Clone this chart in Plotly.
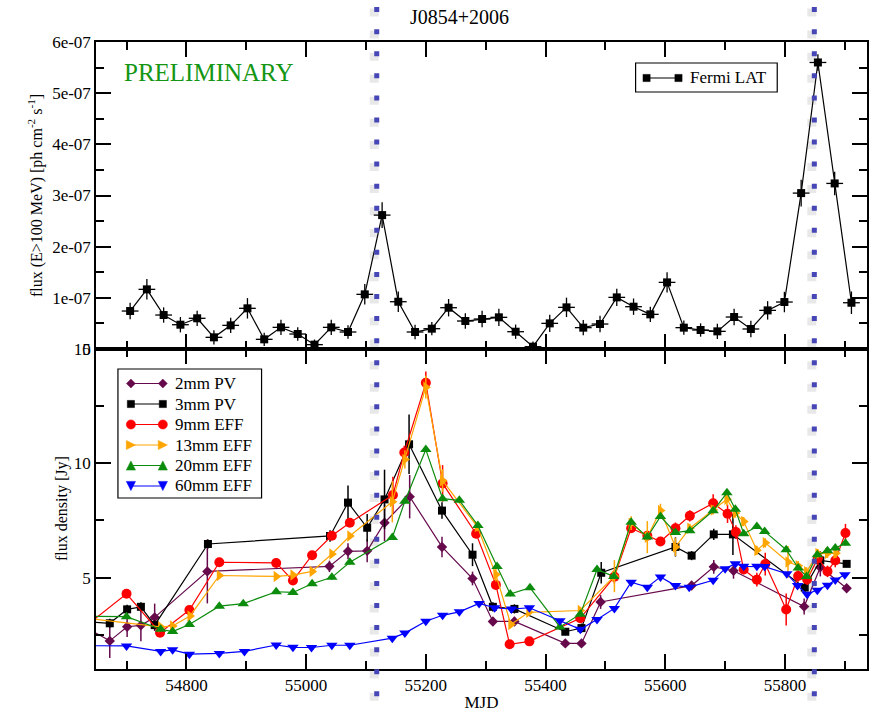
import plotly.graph_objects as go

# ---------------- Fermi LAT gamma-ray light curve (28-day bins) ----------------
lat_mjd = [54706, 54734, 54762, 54790, 54818, 54846, 54874, 54902, 54930, 54958,
           54986, 55014, 55042, 55070, 55098, 55127, 55154, 55182, 55210, 55238,
           55266, 55294, 55322, 55350, 55379, 55407, 55435, 55463, 55491, 55519,
           55547, 55575, 55603, 55631, 55659, 55687, 55715, 55743, 55771, 55799,
           55827, 55855, 55883, 55911]
lat_flux = [0.742, 1.166, 0.664, 0.475, 0.600, 0.228, 0.462, 0.795, 0.189, 0.423,
            0.293, 0.085, 0.423, 0.332, 1.068, 2.617, 0.924, 0.332, 0.397, 0.807,
            0.547, 0.586, 0.619, 0.338, 0.045, 0.501, 0.814, 0.417, 0.488, 1.009,
            0.827, 0.677, 1.302, 0.417, 0.371, 0.345, 0.625, 0.391, 0.755, 0.918,
            3.047, 5.600, 3.236, 0.904]          # units of 1e-7 ph cm^-2 s^-1
lat_err = [0.16, 0.20, 0.15, 0.15, 0.15, 0.14, 0.15, 0.20, 0.13, 0.15,
           0.13, 0.10, 0.15, 0.13, 0.20, 0.25, 0.20, 0.14, 0.13, 0.17,
           0.15, 0.16, 0.17, 0.14, 0.10, 0.17, 0.19, 0.15, 0.16, 0.17,
           0.16, 0.15, 0.20, 0.14, 0.13, 0.15, 0.16, 0.16, 0.18, 0.20,
           0.26, 0.16, 0.23, 0.22]
lat_halfbin = 14
lat_scale = 1e-7

# ---------------- radio light curves (flux density, Jy) ----------------
pv2_mjd = [54630, 54672, 54701, 54724, 54747, 54835, 55039, 55070, 55102, 55131,
           55173, 55227, 55278, 55312, 55348, 55433, 55460, 55492, 55644, 55681,
           55714, 55832, 55859, 55903]
pv2_val = [2.85, 2.23, 2.85, 2.91, 3.26, 5.27, 5.49, 6.15, 6.17, 7.40,
           8.54, 6.34, 4.96, 3.08, 3.08, 2.12, 2.12, 3.93, 4.65, 5.47,
           5.30, 3.73, 5.45, 4.53]
pv2_err = [0.30, 0.75, 0.45, 0.70, 0.60, 1.40, 0.25, 0.35, 0.50, 0.80,
           0.95, 0.45, 0.30, 0.20, 0.20, 0.15, 0.15, 0.30, 0.15, 0.30,
           0.35, 0.35, 0.40, 0.10]

pv3_mjd = [54630, 54672, 54701, 54724, 54747, 54836, 55040, 55070, 55102, 55131,
           55172, 55227, 55278, 55312, 55348, 55433, 55460, 55493, 55617, 55644,
           55681, 55713, 55833, 55859, 55903]
pv3_val = [3.07, 3.00, 3.61, 3.72, 2.92, 6.47, 6.82, 8.28, 7.18, 8.42,
           10.83, 7.93, 6.00, 3.72, 3.63, 2.63, 2.79, 5.21, 6.34, 5.96,
           6.89, 6.89, 4.56, 5.75, 5.60]
pv3_err = [0.20, 0.20, 0.20, 0.20, 0.20, 0.20, 0.25, 0.75, 0.60, 1.30,
           1.30, 0.36, 0.50, 0.20, 0.20, 0.15, 0.20, 0.47, 0.42, 0.20,
           0.25, 0.90, 0.25, 0.40, 0.10]

eff9_mjd = [54640, 54700, 54756, 54805, 54855, 54950, 54978, 55010, 55043, 55073,
            55145, 55164, 55200, 55228, 55284, 55317, 55340, 55373, 55458, 55515,
            55543, 55570, 55592, 55617, 55641, 55680, 55704, 55718, 55731, 55753,
            55767, 55802, 55822, 55837, 55855, 55871, 55884, 55901]
eff9_val = [3.04, 4.29, 2.59, 3.58, 5.67, 5.64, 4.87, 5.98, 6.83, 7.40,
            8.61, 10.47, 13.52, 9.12, 6.92, 4.68, 2.08, 2.21, 3.22, 5.04,
            7.16, 6.83, 6.58, 7.16, 7.70, 8.25, 7.79, 6.99, 5.35, 4.91,
            5.59, 3.60, 5.07, 4.92, 5.85, 5.27, 5.75, 6.95]
eff9_err = [0.15, 0.15, 0.15, 0.15, 0.15, 0.15, 0.15, 0.15, 0.15, 0.15,
            0.80, 0.30, 0.50, 0.80, 0.20, 0.20, 0.10, 0.10, 0.20, 0.30,
            0.20, 0.20, 0.20, 0.25, 0.25, 0.40, 0.40, 0.30, 0.20, 0.30,
            0.50, 0.70, 0.25, 0.25, 0.30, 0.25, 0.30, 0.40]

eff13_mjd = [54640, 54757, 54777, 54806, 54855, 54950, 54978, 55010, 55043, 55073,
             55144, 55165, 55200, 55228, 55286, 55317, 55342, 55372, 55458, 55515,
             55543, 55570, 55592, 55617, 55641, 55680, 55703, 55717, 55731, 55753,
             55767, 55805, 55822, 55836, 55855, 55871, 55885]
eff13_val = [3.20, 2.84, 2.88, 3.32, 5.09, 5.05, 5.11, 5.27, 6.03, 6.82,
             8.32, 10.17, 13.33, 9.24, 7.23, 5.13, 2.95, 3.48, 3.56, 5.06,
             7.38, 6.77, 7.93, 6.34, 7.16, 7.96, 8.43, 7.82, 7.45, 6.19,
             6.52, 5.68, 5.52, 5.25, 6.05, 6.06, 6.06]
eff13_err = [0.10, 0.10, 0.10, 0.10, 0.10, 0.10, 0.10, 0.10, 0.10, 0.10,
             0.90, 0.40, 0.50, 0.50, 0.20, 0.30, 0.15, 0.15, 0.15, 0.70,
             0.30, 0.70, 0.30, 0.40, 0.20, 0.20, 0.30, 0.20, 0.20, 0.20,
             0.20, 0.70, 0.20, 0.20, 0.20, 0.20, 0.20]

eff20_mjd = [54640, 54700, 54757, 54777, 54805, 54855, 54895, 54950, 54978, 55010,
             55043, 55073, 55144, 55165, 55200, 55228, 55256, 55287, 55319, 55341,
             55374, 55424, 55458, 55486, 55514, 55543, 55570, 55592, 55617, 55641,
             55680, 55703, 55717, 55731, 55753, 55766, 55802, 55822, 55836, 55854,
             55871, 55884, 55901]
eff20_val = [3.30, 3.29, 2.74, 2.64, 2.95, 3.75, 3.86, 4.38, 4.35, 4.73,
             5.01, 5.67, 6.75, 8.34, 10.60, 8.45, 8.38, 7.28, 5.48, 4.28,
             4.56, 2.84, 3.40, 5.35, 5.05, 7.42, 6.77, 7.67, 6.97, 7.05,
             7.92, 8.71, 7.99, 6.92, 7.23, 7.02, 6.22, 5.42, 5.05, 6.00,
             6.17, 6.29, 6.50]
eff20_err = [0.10] * len(eff20_val)

eff60_mjd = [54630, 54700, 54757, 54777, 54805, 54855, 54897, 54950, 54978, 55009,
             55043, 55073, 55144, 55165, 55200, 55228, 55256, 55289, 55315, 55343,
             55373, 55424, 55458, 55486, 55515, 55543, 55570, 55592, 55617, 55640,
             55680, 55700, 55717, 55731, 55753, 55766, 55803, 55821, 55837, 55854,
             55871, 55884, 55900]
eff60_val = [2.02, 2.01, 1.77, 1.84, 1.65, 1.68, 1.77, 2.05, 1.95, 1.94,
             2.04, 2.04, 2.35, 2.57, 3.09, 3.35, 3.50, 3.87, 3.68, 3.62,
             3.68, 3.11, 2.74, 3.17, 3.65, 4.80, 4.58, 5.03, 4.65, 4.58,
             4.88, 5.39, 5.61, 5.49, 5.49, 5.48, 5.17, 4.65, 4.27, 4.45,
             4.66, 4.89, 5.12]
eff60_err = [0.06] * len(eff60_val)

# gamma-ray flare epochs marked across both panels
flare_mjd = [55118, 55849]

# axis ticks
x_range = [54649, 55937]
top_tickvals = [0, 1e-7, 2e-7, 3e-7, 4e-7, 5e-7, 6e-7]
top_ticktext = ["0", "1e-07", "2e-07", "3e-07", "4e-07", "5e-07", "6e-07"]

SERIF = "Liberation Serif"
FONT_SIZE = 17

radio_series = [
    ("2mm PV", pv2_mjd, pv2_val, pv2_err, "#660a4c", "diamond", 8),
    ("3mm PV", pv3_mjd, pv3_val, pv3_err, "#000000", "square", 8),
    ("9mm EFF", eff9_mjd, eff9_val, eff9_err, "#ff0000", "circle", 10),
    ("13mm EFF", eff13_mjd, eff13_val, eff13_err, "#ffa500", "triangle-right", 10),
    ("20mm EFF", eff20_mjd, eff20_val, eff20_err, "#0c8c0c", "triangle-up", 10),
    ("60mm EFF", eff60_mjd, eff60_val, eff60_err, "#0000ff", "triangle-down", 10),
]

fig = go.Figure()

fig.add_trace(go.Scatter(
    x=lat_mjd,
    y=[v * lat_scale for v in lat_flux],
    mode="lines+markers",
    name="Fermi LAT",
    line=dict(color="black", width=1.2),
    marker=dict(symbol="square", size=8, color="black"),
    error_y=dict(type="data", array=[e * lat_scale for e in lat_err],
                 color="black", thickness=1.3, width=0),
    error_x=dict(type="constant", value=lat_halfbin,
                 color="black", thickness=1.3, width=0),
    xaxis="x", yaxis="y", showlegend=False,
))

for name, xs, ys, es, col, sym, size in radio_series:
    fig.add_trace(go.Scatter(
        x=xs, y=ys,
        mode="lines+markers",
        name=name,
        line=dict(color=col, width=1.2),
        marker=dict(symbol=sym, size=size, color=col),
        error_y=dict(type="data", array=es, color=col, thickness=1.5, width=0),
        xaxis="x2", yaxis="y2", showlegend=False,
    ))

# ---- page geometry (pixels) ----
PLOT_LEFT = 96
PLOT_TOP = 42
PLOT_BOTTOM = 669
PLOT_W = 869 - PLOT_LEFT
PLOT_H = PLOT_BOTTOM - PLOT_TOP
PANEL_SPLIT = 349


def paper_x(px):
    return (px - PLOT_LEFT) / PLOT_W


def paper_y(px):
    return (PLOT_BOTTOM - px) / PLOT_H


shapes = []
annotations = []

# dotted flare markers with a soft shadow
for xv in flare_mjd:
    shapes.append(dict(
        type="line", xref="x", yref="paper", xsizemode="pixel", xanchor=xv,
        x0=-2.5, x1=-2.5, y0=paper_y(8.5), y1=paper_y(716),
        line=dict(color="rgba(80,80,80,0.13)", width=9, dash="8px,14.07px"),
        layer="above"))
    shapes.append(dict(
        type="line", xref="x", yref="paper", xsizemode="pixel", xanchor=xv,
        x0=0, x1=0, y0=paper_y(7.1), y1=paper_y(716),
        line=dict(color="#4646b6", width=5, dash="5px,17.07px"),
        layer="above"))


def marker_shape(symbol, cx, cy, color, s):
    """Legend glyph centred at pixel (cx, cy); s is the half size in pixels."""
    base = dict(xref="paper", yref="paper", xsizemode="pixel", ysizemode="pixel",
                xanchor=paper_x(cx), yanchor=paper_y(cy),
                fillcolor=color, line=dict(color=color, width=0.5), layer="above")
    if symbol == "circle":
        return dict(base, type="circle", x0=-s, x1=s, y0=-s, y1=s)
    if symbol == "square":
        return dict(base, type="rect", x0=-s, x1=s, y0=-s, y1=s)
    paths = {
        "diamond": f"M0,{s} L{s},0 L0,{-s} L{-s},0 Z",
        "triangle-right": f"M{s},0 L{-s},{s} L{-s},{-s} Z",
        "triangle-up": f"M0,{s} L{s},{-s} L{-s},{-s} Z",
        "triangle-down": f"M0,{-s} L{s},{s} L{-s},{s} Z",
    }
    return dict(base, type="path", path=paths[symbol])


def legend_box(x0, y0, x1, y1):
    shapes.append(dict(type="rect", xref="paper", yref="paper",
                       x0=paper_x(x0), x1=paper_x(x1), y0=paper_y(y1), y1=paper_y(y0),
                       fillcolor="white", line=dict(color="black", width=1.2),
                       layer="above"))


def legend_row(label, color, symbol, half, y, x_start, x_end, x_text):
    shapes.append(dict(type="line", xref="paper", yref="paper",
                       x0=paper_x(x_start), x1=paper_x(x_end),
                       y0=paper_y(y), y1=paper_y(y),
                       line=dict(color=color, width=1.2), layer="above"))
    shapes.append(marker_shape(symbol, x_start, y, color, half))
    shapes.append(marker_shape(symbol, x_end, y, color, half))
    annotations.append(dict(text=label, xref="paper", yref="paper",
                            x=paper_x(x_text), y=paper_y(y), xanchor="left",
                            yanchor="middle", showarrow=False,
                            font=dict(family=SERIF, size=FONT_SIZE, color="black")))


# gamma-ray panel legend
legend_box(637, 63, 779, 92)
legend_row("Fermi LAT", "black", "square", 3.6, 78, 648, 680, 690)

# radio panel legend
legend_box(118, 369, 262, 498)
glyph_half = {"diamond": 4.5, "square": 3.6, "circle": 4.6,
              "triangle-right": 4.6, "triangle-up": 4.6, "triangle-down": 4.6}
row_y0, row_step = 383.5, 20.5
for i, (name, _, _, _, col, sym, _) in enumerate(radio_series):
    legend_row(name, col, sym, glyph_half[sym], row_y0 + i * row_step, 131, 163, 173)

annotations += [
    dict(text="J0854+2006", xref="paper", yref="paper",
         x=paper_x(460), y=paper_y(17), xanchor="center", yanchor="middle",
         showarrow=False, font=dict(family=SERIF, size=20, color="black")),
    dict(text="PRELIMINARY", xref="paper", yref="paper",
         x=paper_x(122), y=paper_y(73), xanchor="left", yanchor="middle",
         showarrow=False, font=dict(family=SERIF, size=25, color="#149614")),
    # radio panel axis title, placed close to its short tick labels
    dict(text="flux density [Jy]", xref="paper", yref="paper",
         x=paper_x(62), y=paper_y(509), xanchor="center", yanchor="middle",
         textangle=-90, showarrow=False,
         font=dict(family=SERIF, size=16, color="black")),
]

axis_common = dict(
    showgrid=False, zeroline=False, showline=True, linecolor="black",
    ticks="inside", tickcolor="black", tickwidth=1.5, ticklen=15,
    mirror="ticks",
    tickfont=dict(family=SERIF, size=FONT_SIZE, color="black"),
)

x_minor = dict(ticks="inside", ticklen=8, tickwidth=1.5, tickcolor="black",
               tickmode="linear", tick0=54700, dtick=100)

fig.update_layout(
    width=869, height=713,
    margin=dict(l=PLOT_LEFT, r=0, t=PLOT_TOP, b=713 - PLOT_BOTTOM),
    paper_bgcolor="white", plot_bgcolor="white",
    font=dict(family=SERIF, size=FONT_SIZE, color="black"),
    showlegend=False,
    xaxis=dict(axis_common, domain=[0, 1], anchor="y", range=x_range,
               tickmode="linear", tick0=54800, dtick=200, showticklabels=False,
               linewidth=1.5, minor=x_minor),
    yaxis=dict(axis_common, domain=[paper_y(PANEL_SPLIT), 1], anchor="x",
               range=[0, 6e-7], tickmode="array",
               tickvals=top_tickvals, ticktext=top_ticktext, linewidth=1.5,
               minor=dict(ticks="inside", ticklen=8, tickwidth=1.5, tickcolor="black",
                          tickmode="linear", tick0=0, dtick=0.5e-7),
               title=dict(text="flux (E>100 MeV) [ph cm<sup>-2</sup> s<sup>-1</sup>]",
                          font=dict(family=SERIF, size=16), standoff=6)),
    xaxis2=dict(axis_common, domain=[0, 1], anchor="y2", range=x_range,
                tickmode="linear", tick0=54800, dtick=200, tickformat="d",
                linewidth=2, minor=x_minor,
                title=dict(text="MJD", font=dict(family=SERIF, size=FONT_SIZE), standoff=2)),
    yaxis2=dict(axis_common, domain=[0, paper_y(PANEL_SPLIT)], anchor="x2",
                range=[1, 15], tickmode="linear", tick0=0, dtick=5, linewidth=1.5,
                minor=dict(ticks="inside", ticklen=8, tickwidth=1.5, tickcolor="black",
                           tickmode="linear", tick0=0, dtick=2.5)),
    shapes=shapes,
    annotations=annotations,
)

fig.write_html("out.html")
